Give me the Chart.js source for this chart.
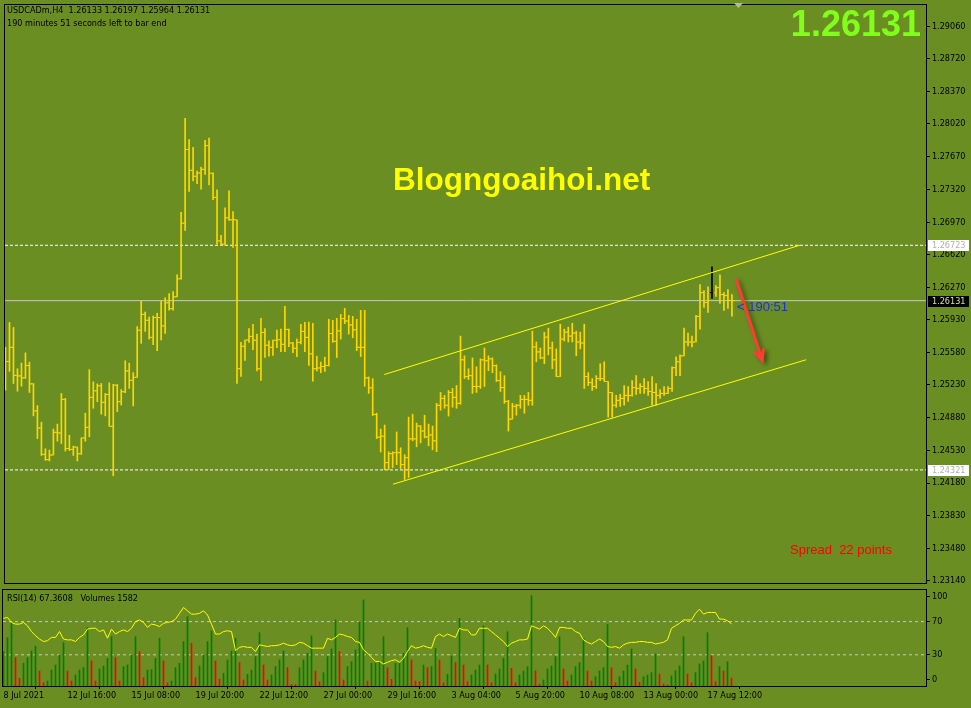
<!DOCTYPE html>
<html>
<head>
<meta charset="utf-8">
<script src="https://cdn.jsdelivr.net/npm/chart.js@4.4.0/dist/chart.umd.min.js"></script>
<style>
  html, body { margin: 0; padding: 0; background: #6b8e23; overflow: hidden; }
  #wrap { position: relative; width: 971px; height: 708px; background: #6b8e23; }
  #price { position: absolute; left: 0; top: 0; }
  #rsi { position: absolute; left: 0; top: 588px; }
</style>
</head>
<body>
<div id="wrap">
  <canvas id="price" width="971" height="588"></canvas>
  <canvas id="rsi" width="971" height="120"></canvas>
</div>
<script>
// USDCADm H4, 183 bars, oldest first
const opens = [
  1.25560, 1.25480, 1.25632, 1.25332, 1.25326, 1.25305, 1.25438, 1.25241, 1.24952, 1.24769,
  1.24487, 1.24431, 1.24480, 1.24723, 1.24716, 1.25075, 1.24550, 1.24540, 1.24565, 1.24494,
  1.24663, 1.24776, 1.25097, 1.25167, 1.25220, 1.25044, 1.25128, 1.24787, 1.25227, 1.25051,
  1.25157, 1.25379, 1.25279, 1.25311, 1.25815, 1.25984, 1.25921, 1.25738, 1.25950, 1.25950,
  1.25861, 1.26108, 1.26045, 1.26172, 1.26365, 1.26960, 1.27747, 1.27525, 1.27461, 1.27496,
  1.27535, 1.27789, 1.27493, 1.27235, 1.26770, 1.26735, 1.27017, 1.26996, 1.26996, 1.25403,
  1.25643, 1.25710, 1.25749, 1.25707, 1.25403, 1.25791, 1.25654, 1.25632, 1.25707, 1.25713,
  1.25664, 1.25823, 1.25678, 1.25622, 1.25685, 1.25802, 1.25738, 1.25562, 1.25403, 1.25411,
  1.25427, 1.25438, 1.25780, 1.25696, 1.25808, 1.25939, 1.25914, 1.25871, 1.25819, 1.25632,
  1.25632, 1.25305, 1.25199, 1.24914, 1.24671, 1.24681, 1.24399, 1.24494, 1.24505, 1.24505,
  1.24378, 1.24452, 1.24653, 1.24653, 1.24790, 1.24737, 1.24674, 1.24695, 1.24632, 1.25012,
  1.25086, 1.25012, 1.25149, 1.25097, 1.25033, 1.25498, 1.25319, 1.25329, 1.25213, 1.25213,
  1.25498, 1.25488, 1.25509, 1.25435, 1.25276, 1.25202, 1.25054, 1.24864, 1.25001, 1.25012,
  1.25075, 1.25075, 1.25065, 1.25636, 1.25583, 1.25519, 1.25741, 1.25625, 1.25498, 1.25319,
  1.25720, 1.25794, 1.25752, 1.25784, 1.25689, 1.25678, 1.25319, 1.25255, 1.25213, 1.25297,
  1.25297, 1.25266, 1.25149, 1.25012, 1.25065, 1.25086, 1.25118, 1.25118, 1.25202, 1.25192,
  1.25213, 1.25192, 1.25160, 1.25149, 1.25118, 1.25139, 1.25139, 1.25192, 1.25414, 1.25477,
  1.25541, 1.25689, 1.25689, 1.25689, 1.25963, 1.26217, 1.26111, 1.26217, 1.26217, 1.26270,
  1.26196, 1.26185, 1.26133
];
const highs = [
  1.25632, 1.25897, 1.25844, 1.25403, 1.25463, 1.25572, 1.25474, 1.25245, 1.25009, 1.24832,
  1.24547, 1.24533, 1.24758, 1.24811, 1.25139, 1.25086, 1.24692, 1.24576, 1.24565, 1.24663,
  1.24927, 1.25393, 1.25263, 1.25241, 1.25245, 1.25139, 1.25252, 1.25237, 1.25234, 1.25181,
  1.25488, 1.25463, 1.25361, 1.25854, 1.26125, 1.26009, 1.25956, 1.25967, 1.25995, 1.26125,
  1.26161, 1.26206, 1.26228, 1.26407, 1.27076, 1.28081, 1.27852, 1.27771, 1.27517, 1.27559,
  1.27845, 1.27869, 1.27499, 1.27316, 1.26830, 1.27123, 1.27306, 1.27084, 1.26996, 1.25685,
  1.25710, 1.25833, 1.25879, 1.25773, 1.25942, 1.25833, 1.25702, 1.25710, 1.25815, 1.25826,
  1.26069, 1.25826, 1.25685, 1.25720, 1.25879, 1.25900, 1.25903, 1.25889, 1.25537, 1.25474,
  1.25527, 1.25932, 1.25921, 1.25942, 1.25984, 1.26048, 1.25974, 1.25963, 1.25932, 1.26027,
  1.26027, 1.25315, 1.25297, 1.24927, 1.24758, 1.24801, 1.24515, 1.24515, 1.24727, 1.24558,
  1.24484, 1.24885, 1.24917, 1.24822, 1.24795, 1.24906, 1.24811, 1.24790, 1.25033, 1.25149,
  1.25118, 1.25171, 1.25192, 1.25223, 1.25752, 1.25541, 1.25403, 1.25519, 1.25424, 1.25509,
  1.25625, 1.25541, 1.25519, 1.25445, 1.25371, 1.25329, 1.25065, 1.25033, 1.25023, 1.25118,
  1.25118, 1.25149, 1.25805, 1.25689, 1.25625, 1.25794, 1.25837, 1.25689, 1.25615, 1.25879,
  1.25826, 1.25847, 1.25889, 1.25805, 1.25794, 1.25879, 1.25361, 1.25297, 1.25329, 1.25456,
  1.25477, 1.25266, 1.25149, 1.25118, 1.25128, 1.25223, 1.25213, 1.25276, 1.25329, 1.25245,
  1.25297, 1.25266, 1.25319, 1.25245, 1.25181, 1.25213, 1.25213, 1.25424, 1.25530, 1.25551,
  1.25837, 1.25784, 1.25752, 1.25974, 1.26302, 1.26238, 1.26280, 1.26492, 1.26291, 1.26407,
  1.26217, 1.26249, 1.26197
];
const lows = [
  1.25174, 1.25375, 1.25245, 1.25163, 1.25216, 1.25300, 1.25149, 1.24899, 1.24656, 1.24476,
  1.24423, 1.24417, 1.24480, 1.24628, 1.24603, 1.24523, 1.24529, 1.24476, 1.24417, 1.24487,
  1.24628, 1.24674, 1.24980, 1.25051, 1.24917, 1.24899, 1.24787, 1.24258, 1.24945, 1.25015,
  1.25146, 1.25192, 1.25005, 1.25311, 1.25675, 1.25802, 1.25720, 1.25660, 1.25597, 1.25710,
  1.25780, 1.26030, 1.26030, 1.26172, 1.26360, 1.26883, 1.27298, 1.27411, 1.27383, 1.27324,
  1.27482, 1.27369, 1.27211, 1.26735, 1.26724, 1.26724, 1.26989, 1.26700, 1.25245, 1.25322,
  1.25491, 1.25685, 1.25607, 1.25379, 1.25279, 1.25523, 1.25537, 1.25544, 1.25628, 1.25586,
  1.25586, 1.25639, 1.25575, 1.25533, 1.25667, 1.25586, 1.25438, 1.25269, 1.25379, 1.25361,
  1.25375, 1.25432, 1.25685, 1.25523, 1.25720, 1.25886, 1.25773, 1.25734, 1.25597, 1.25533,
  1.25216, 1.25139, 1.24903, 1.24656, 1.24512, 1.24322, 1.24325, 1.24346, 1.24378, 1.24336,
  1.24219, 1.24240, 1.24632, 1.24568, 1.24610, 1.24663, 1.24579, 1.24536, 1.24515, 1.24959,
  1.24980, 1.24896, 1.24991, 1.24980, 1.25023, 1.25297, 1.25287, 1.25139, 1.25149, 1.25192,
  1.25213, 1.25382, 1.25361, 1.25266, 1.25160, 1.25033, 1.24737, 1.24864, 1.24906, 1.24980,
  1.24927, 1.25012, 1.25012, 1.25477, 1.25509, 1.25456, 1.25551, 1.25403, 1.25319, 1.25319,
  1.25699, 1.25689, 1.25689, 1.25541, 1.25615, 1.25192, 1.25223, 1.25171, 1.25192, 1.25276,
  1.25266, 1.24885, 1.24885, 1.24991, 1.25001, 1.25012, 1.25054, 1.25110, 1.25128, 1.25139,
  1.25139, 1.25118, 1.25012, 1.25012, 1.25086, 1.25118, 1.25135, 1.25160, 1.25329, 1.25329,
  1.25541, 1.25646, 1.25636, 1.25689, 1.25826, 1.26058, 1.26006, 1.26154, 1.26175, 1.26101,
  1.26027, 1.26048, 1.25964
];
const closes = [
  1.25480, 1.25632, 1.25332, 1.25326, 1.25305, 1.25438, 1.25241, 1.24952, 1.24769, 1.24487,
  1.24431, 1.24480, 1.24723, 1.24716, 1.25075, 1.24550, 1.24540, 1.24565, 1.24494, 1.24663,
  1.24776, 1.25097, 1.25167, 1.25220, 1.25044, 1.25128, 1.24787, 1.25227, 1.25051, 1.25157,
  1.25379, 1.25279, 1.25311, 1.25815, 1.25984, 1.25921, 1.25738, 1.25950, 1.25950, 1.25861,
  1.26108, 1.26045, 1.26172, 1.26365, 1.26960, 1.27747, 1.27525, 1.27461, 1.27496, 1.27535,
  1.27789, 1.27493, 1.27235, 1.26770, 1.26735, 1.27017, 1.26996, 1.26996, 1.25403, 1.25643,
  1.25710, 1.25749, 1.25707, 1.25403, 1.25791, 1.25654, 1.25632, 1.25707, 1.25713, 1.25664,
  1.25823, 1.25678, 1.25622, 1.25685, 1.25802, 1.25738, 1.25562, 1.25403, 1.25411, 1.25427,
  1.25438, 1.25780, 1.25696, 1.25808, 1.25939, 1.25914, 1.25871, 1.25819, 1.25632, 1.25632,
  1.25305, 1.25199, 1.24914, 1.24671, 1.24681, 1.24399, 1.24494, 1.24505, 1.24505, 1.24378,
  1.24452, 1.24653, 1.24653, 1.24790, 1.24737, 1.24674, 1.24695, 1.24632, 1.25012, 1.25086,
  1.25012, 1.25149, 1.25097, 1.25033, 1.25498, 1.25319, 1.25329, 1.25213, 1.25213, 1.25498,
  1.25488, 1.25509, 1.25435, 1.25276, 1.25202, 1.25054, 1.24864, 1.25001, 1.25012, 1.25075,
  1.25075, 1.25065, 1.25636, 1.25583, 1.25519, 1.25741, 1.25625, 1.25498, 1.25319, 1.25720,
  1.25794, 1.25752, 1.25784, 1.25689, 1.25678, 1.25319, 1.25255, 1.25213, 1.25297, 1.25297,
  1.25266, 1.25149, 1.25012, 1.25065, 1.25086, 1.25118, 1.25118, 1.25202, 1.25192, 1.25213,
  1.25192, 1.25160, 1.25149, 1.25118, 1.25139, 1.25139, 1.25192, 1.25414, 1.25477, 1.25541,
  1.25689, 1.25689, 1.25689, 1.25963, 1.26217, 1.26111, 1.26217, 1.26217, 1.26270, 1.26196,
  1.26185, 1.26133, 1.26131
];
const rsiValues = [
  74, 75, 69, 67, 67, 69, 65, 58, 53, 49,
  46, 47, 51, 51, 58, 49, 48, 48, 46, 51,
  54, 61, 62, 62, 58, 60, 50, 61, 55, 58,
  60, 58, 62, 70, 72, 69, 63, 67, 66, 64,
  68, 69, 70, 73, 80, 87, 83, 79, 79, 80,
  83, 78, 67, 55, 55, 58, 59, 58, 35, 39,
  40, 39, 39, 34, 42, 41, 40, 41, 41, 42,
  44, 42, 41, 42, 45, 44, 41, 38, 38, 38,
  38, 50, 48, 51, 55, 54, 52, 51, 46, 45,
  36, 32, 27, 22, 22, 19, 21, 23, 24, 21,
  26, 34, 41, 38, 39, 41, 39, 38, 52, 55,
  52, 55, 53, 51, 62, 60, 60, 54, 54, 62,
  62, 62, 58, 54, 50, 46, 40, 44, 46, 48,
  48, 49, 65, 63, 61, 65, 62, 57, 51, 63,
  63, 62, 62, 58, 56, 48, 45, 43, 46, 49,
  46, 40, 39, 40, 38, 42, 44, 45, 45, 46,
  46, 45, 45, 43, 44, 45, 48, 62, 65, 68,
  72, 72, 72, 80, 85, 79, 81, 81, 81, 73,
  73, 71, 67.36
];
const volumes = [
  6800, 9570, 12408, 5610, 1518, 4488, 5610, 6930, 7920, 2970,
  660, 990, 3168, 4158, 6138, 8580, 2970, 990, 2178, 3168,
  3630, 11550, 4950, 990, 3366, 3960, 5478, 9768, 5610, 990,
  3828, 4158, 6138, 9768, 6798, 1650, 3168, 3250, 5478, 9438,
  4950, 660, 990, 3630, 4488, 8778, 13728, 8448, 1650, 3960,
  6138, 8778, 10890, 4950, 1386, 2508, 5148, 6930, 9438, 4620,
  1188, 2310, 3168, 5808, 10560, 4158, 1188, 2178, 3828, 5148,
  6930, 3630, 330, 300, 3630, 5148, 6468, 9900, 2970, 858,
  2640, 5808, 7326, 13068, 6798, 1188, 3828, 4818, 7128, 12738,
  17028, 990, 4488, 4500, 4818, 9768, 3630, 1320, 4488, 4500,
  6468, 11550, 5148, 990, 858, 4158, 3630, 3828, 7458, 5148,
  660, 2310, 5940, 4620, 13398, 4158, 858, 2178, 3168, 4158,
  11880, 4158, 660, 2376, 3366, 5478, 10758, 3498, 660, 2178,
  2970, 3828, 17886, 2970, 396, 1188, 3366, 3960, 5808, 9768,
  3366, 990, 2178, 3828, 4620, 9438, 2970, 990, 1848, 2970,
  3630, 12210, 3630, 660, 1848, 2970, 4158, 7326, 3366, 726,
  1848, 2178, 2640, 6336, 2376, 396, 198, 1980, 3036, 3960,
  9768, 2376, 660, 2640, 4356, 4950, 10560, 6006, 858, 3828,
  2970, 4818, 1582
];

const priceTicks = [1.29060, 1.28720, 1.28370, 1.28020, 1.27670, 1.27320, 1.26970, 1.26620, 1.26270,
  1.25930, 1.25580, 1.25230, 1.24880, 1.24530, 1.24180, 1.23830, 1.23480, 1.23140];
const rsiTicks = [0, 30, 70, 100];
const rsiLevels = [30, 70];
const timeTickBars = [0, 16, 32, 48, 64, 80, 96, 112, 128, 144, 160, 176];
const timeLabels = ['8 Jul 2021', '12 Jul 16:00', '15 Jul 08:00', '19 Jul 20:00', '22 Jul 12:00', '27 Jul 00:00',
  '29 Jul 16:00', '3 Aug 04:00', '5 Aug 20:00', '10 Aug 08:00', '13 Aug 00:00', '17 Aug 12:00'];
const levelLines = [1.26723, 1.24321];
const bidPrice = 1.26131;
// [bar index, price] end points of the drawn objects
const upperChannel = [[94.9, 1.25341], [199.1, 1.26725]];
const lowerChannel = [[97.1, 1.24168], [200.6, 1.25499]];
const arrowLine = [[183.1, 1.26355], [189.6, 1.25489]];
const markedBar = 177;

const FONT = 'Tahoma, "DejaVu Sans Condensed", "Liberation Sans", sans-serif';
const GOLD = '#ffd700';
const xMin = -0.125, xMax = 230.625;

let barColor = (ctx) => ctx.dataIndex === markedBar ? '#000000' : GOLD;

let lineSet = (pts, color, width, dash, order) => ({
  type: 'line',
  data: pts.map(p => ({x: p[0], y: p[1]})),
  borderColor: color,
  borderWidth: width,
  borderDash: dash || [],
  pointRadius: 0,
  tension: 0,
  order: order
});

const priceOverlay = {
  id: 'priceOverlay',
  afterDatasetsDraw(chart) {
    const ctx = chart.ctx;
    const xs = chart.scales.x, ys = chart.scales.y;
    const a = chart.chartArea;
    ctx.save();
    // arrow with soft shadow
    const x1 = xs.getPixelForValue(arrowLine[0][0]), y1 = ys.getPixelForValue(arrowLine[0][1]);
    const x2 = xs.getPixelForValue(arrowLine[1][0]), y2 = ys.getPixelForValue(arrowLine[1][1]);
    const ang = Math.atan2(y2 - y1, x2 - x1);
    ctx.strokeStyle = '#ff3c32';
    ctx.lineWidth = 3;
    ctx.lineCap = 'round';
    ctx.shadowColor = 'rgba(20,30,0,0.55)';
    ctx.shadowBlur = 4;
    ctx.shadowOffsetX = 3;
    ctx.shadowOffsetY = 2;
    ctx.beginPath();
    ctx.moveTo(x1, y1);
    ctx.lineTo(x2, y2);
    ctx.moveTo(x2 - 11 * Math.cos(ang - 0.4), y2 - 11 * Math.sin(ang - 0.4));
    ctx.lineTo(x2, y2);
    ctx.lineTo(x2 - 11 * Math.cos(ang + 0.4), y2 - 11 * Math.sin(ang + 0.4));
    ctx.stroke();
    ctx.restore();

    ctx.save();
    // frame
    ctx.strokeStyle = '#000';
    ctx.lineWidth = 1;
    ctx.strokeRect(a.left - 0.5, a.top - 0.5, a.right - a.left + 1, a.bottom - a.top + 1);
    // headers
    ctx.fillStyle = '#000';
    ctx.font = '9px ' + FONT;
    ctx.textBaseline = 'middle';
    ctx.textAlign = 'left';
    ctx.fillText('USDCADm,H4  1.26133 1.26197 1.25964 1.26131', 7, 11);
    ctx.fillText('190 minutes 51 seconds left to bar end', 7, 24);
    // shift marker
    ctx.fillStyle = '#b4bca0';
    ctx.beginPath();
    ctx.moveTo(734, 3); ctx.lineTo(743, 3); ctx.lineTo(738.5, 8); ctx.closePath();
    ctx.fill();
    // big price and watermark
    ctx.font = 'bold 36px "Liberation Sans", Arial, sans-serif';
    ctx.fillStyle = '#80ff1a';
    ctx.textAlign = 'right';
    ctx.fillText('1.26131', 921, 26);
    ctx.font = 'bold 31.5px "Liberation Sans", Arial, sans-serif';
    ctx.fillStyle = '#ffff00';
    ctx.textAlign = 'left';
    ctx.fillText('Blogngoaihoi.net', 393, 181);
    ctx.font = '13px "Liberation Sans", Arial, sans-serif';
    ctx.fillStyle = '#ff0000';
    ctx.fillText('Spread  22 points', 790, 550);
    ctx.fillStyle = '#1a2fe0';
    ctx.fillText('< 190:51', 737, ys.getPixelForValue(bidPrice) + 7);
    // price labels on the axis
    ctx.font = '9px ' + FONT;
    const tag = (v, bg, fg) => {
      const y = Math.round(ys.getPixelForValue(v));
      ctx.fillStyle = bg;
      ctx.fillRect(928, y - 5, 41, 11);
      ctx.fillStyle = fg;
      ctx.fillText(v.toFixed(5), 932, y + 0.5);
    };
    levelLines.forEach(v => tag(v, '#ffffff', '#b0b0b0'));
    tag(bidPrice, '#000000', '#d4e0a8');
    ctx.restore();
  }
};

new Chart(document.getElementById('price'), {
  type: 'bar',
  data: {
    datasets: [
      ...levelLines.map(v => lineSet([[xMin, v], [xMax, v]], '#ffffff', 1, [3, 2], 9)),
      lineSet([[xMin, bidPrice], [xMax, bidPrice]], '#c8c8c8', 1, [], 8),
      {
        type: 'bar',
        data: highs.map((h, i) => ({x: i, y: [lows[i], h]})),
        backgroundColor: barColor,
        barThickness: 1,
        grouped: false,
        order: 5
      },
      {
        type: 'scatter',
        data: opens.map((o, i) => ({x: i - 0.375, y: o})),
        pointStyle: 'line',
        pointRadius: 1,
        pointBorderWidth: 1,
        pointBorderColor: barColor,
        order: 4
      },
      {
        type: 'scatter',
        data: closes.map((c, i) => ({x: i + 0.375, y: c})),
        pointStyle: 'line',
        pointRadius: 1,
        pointBorderWidth: 1,
        pointBorderColor: barColor,
        order: 4
      },
      lineSet(upperChannel, '#ffff00', 1, [], 2),
      lineSet(lowerChannel, '#ffff00', 1, [], 2)
    ]
  },
  options: {
    responsive: false,
    animation: false,
    events: [],
    layout: { padding: { left: 3, top: 2, right: 0, bottom: 1 } },
    plugins: { legend: { display: false }, tooltip: { enabled: false } },
    scales: {
      x: { type: 'linear', display: false, min: xMin, max: xMax, offset: false },
      y: {
        type: 'linear',
        position: 'right',
        min: 1.231117,
        max: 1.292924,
        afterBuildTicks: (s) => { s.ticks = priceTicks.map(v => ({value: v})); },
        afterFit: (s) => { s.width = 45; s.paddingTop = 0; s.paddingBottom = 0; },
        grid: { drawOnChartArea: false, drawTicks: true, tickLength: 4, color: '#000' },
        border: { display: true, color: '#000' },
        ticks: {
          autoSkip: false,
          padding: 2,
          color: '#000',
          font: { family: FONT, size: 9 },
          callback: (v) => Number(v).toFixed(5)
        }
      }
    }
  },
  plugins: [priceOverlay]
});

const rsiOverlay = {
  id: 'rsiOverlay',
  afterDraw(chart) {
    const ctx = chart.ctx;
    const a = chart.chartArea;
    ctx.save();
    ctx.strokeStyle = '#000';
    ctx.lineWidth = 1;
    ctx.strokeRect(a.left - 0.5, a.top - 0.5, a.right - a.left + 1, a.bottom - a.top + 1);
    ctx.fillStyle = '#000';
    ctx.font = '9px ' + FONT;
    ctx.textBaseline = 'middle';
    ctx.fillText('RSI(14) 67.3608   Volumes 1582', 7, 11);
    ctx.restore();
  }
};

new Chart(document.getElementById('rsi'), {
  type: 'bar',
  data: {
    datasets: [
      ...rsiLevels.map(v => lineSet([[xMin, v], [xMax, v]], '#c8c8c8', 1, [3, 3], 9)),
      {
        type: 'bar',
        yAxisID: 'yv',
        data: volumes.map((v, i) => ({x: i, y: v})),
        backgroundColor: volumes.map((v, i) => (i === 0 || v > volumes[i - 1]) ? '#008000' : '#ff0000'),
        barThickness: 1,
        grouped: false,
        order: 5
      },
      {
        type: 'line',
        data: rsiValues.map((v, i) => ({x: i, y: v})),
        borderColor: '#ffff00',
        borderWidth: 1,
        pointRadius: 0,
        tension: 0,
        order: 1
      }
    ]
  },
  options: {
    responsive: false,
    animation: false,
    events: [],
    layout: { padding: { left: 3, top: 2, right: 0, bottom: 0 } },
    plugins: { legend: { display: false }, tooltip: { enabled: false } },
    scales: {
      x: {
        type: 'linear',
        min: xMin,
        max: xMax,
        offset: false,
        afterBuildTicks: (s) => { s.ticks = timeTickBars.map(v => ({value: v})); },
        afterFit: (s) => { s.height = 22; s.paddingLeft = 0; s.paddingRight = 0; },
        grid: { drawOnChartArea: false, drawTicks: true, tickLength: 3, color: '#000' },
        border: { display: false },
        ticks: {
          autoSkip: false,
          maxRotation: 0,
          align: 'start',
          padding: 1,
          color: '#000',
          font: { family: FONT, size: 9 },
          callback: (v, i) => timeLabels[i]
        }
      },
      y: {
        type: 'linear',
        position: 'right',
        min: -7.6,
        max: 108.1,
        afterBuildTicks: (s) => { s.ticks = rsiTicks.map(v => ({value: v})); },
        afterFit: (s) => { s.width = 45; s.paddingTop = 0; s.paddingBottom = 0; },
        grid: { drawOnChartArea: false, drawTicks: true, tickLength: 4, color: '#000' },
        border: { display: true, color: '#000' },
        ticks: {
          autoSkip: false,
          padding: 2,
          color: '#000',
          font: { family: FONT, size: 9 }
        }
      },
      yv: { type: 'linear', display: false, min: 0, max: 19000 }
    }
  },
  plugins: [rsiOverlay]
});
</script>
</body>
</html>
